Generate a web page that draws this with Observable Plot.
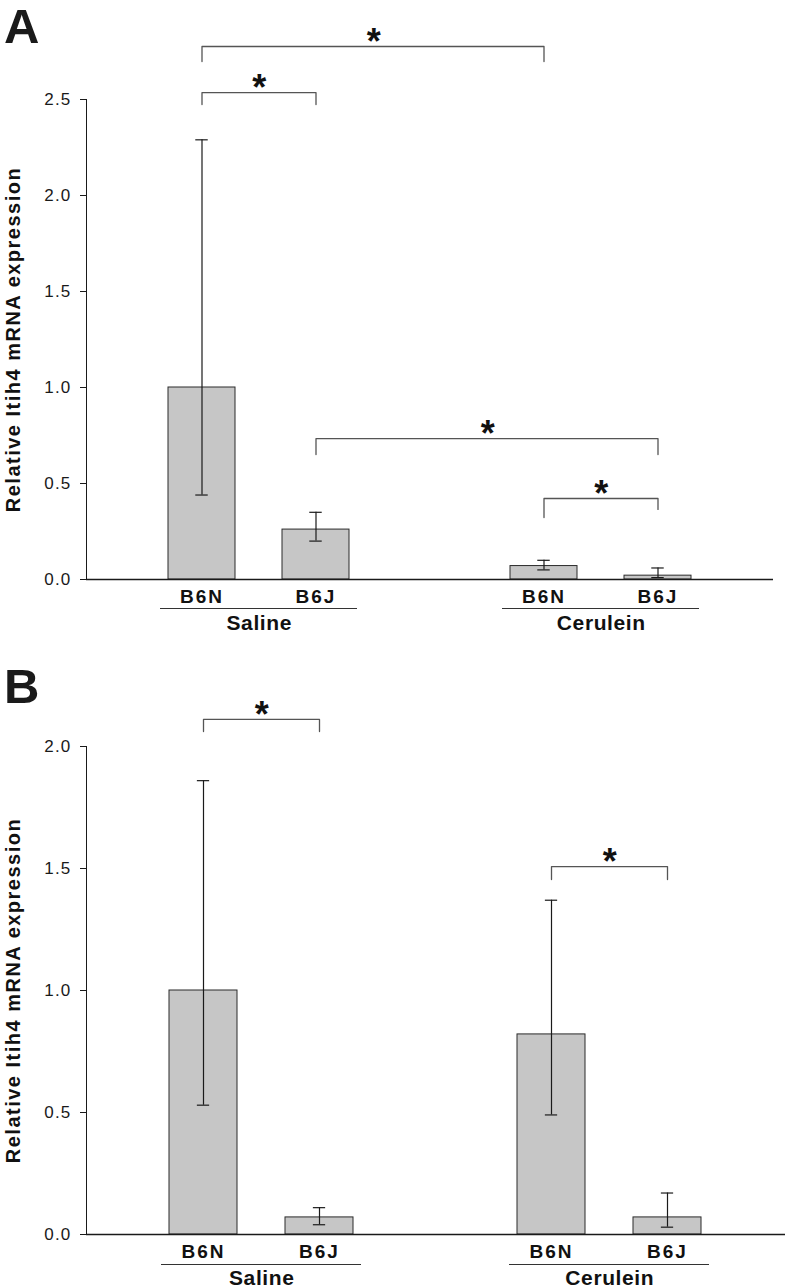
<!DOCTYPE html>
<html><head><meta charset="utf-8">
<script src="https://cdn.jsdelivr.net/npm/d3@7"></script>
<script src="https://cdn.jsdelivr.net/npm/@observablehq/plot@0.6"></script>
<style>
body{margin:0;background:#fff;}
#wrap{position:relative;width:786px;height:1288px;font-family:"Liberation Sans",Arial,Helvetica,sans-serif;color:#1a1a1a;}
.panel{position:absolute;left:0;}
.letter{position:absolute;left:4px;font-size:49px;font-weight:bold;line-height:49px;}
svg{display:block;}
svg g[aria-label="y-axis tick label"] text{letter-spacing:1.2px;}
.strainlab text{letter-spacing:2px;}
.grouplab text{letter-spacing:0.6px;}
.ytitle text{letter-spacing:1.5px;}
</style></head><body>
<div id="wrap"></div>
<script>
// ---------- data ----------
const treatments = ["Saline", "Cerulein"];
const strains = ["B6N", "B6J"];
const keys = ["Saline B6N", "Saline B6J", "Cerulein B6N", "Cerulein B6J"];
const yTitle = "Relative Itih4 mRNA expression";

// Panel A
const meanA = [1.00, 0.26, 0.07, 0.02];
const lowA  = [0.44, 0.20, 0.05, 0.01];
const highA = [2.29, 0.35, 0.10, 0.06];
const ticksA = [0, 0.5, 1.0, 1.5, 2.0, 2.5];
const bracketFromA  = ["Saline B6N", "Saline B6N", "Saline B6J", "Cerulein B6N"];
const bracketToA    = ["Cerulein B6N", "Saline B6J", "Cerulein B6J", "Cerulein B6J"];
const bracketLevelA = [2.776, 2.536, 0.734, 0.422];
const bracketLeftA  = [2.698, 2.474, 0.651, 0.323];
const bracketRightA = [2.698, 2.474, 0.651, 0.365];

// Panel B
const meanB = [1.00, 0.07, 0.82, 0.07];
const lowB  = [0.53, 0.04, 0.49, 0.03];
const highB = [1.86, 0.11, 1.37, 0.17];
const ticksB = [0, 0.5, 1.0, 1.5, 2.0];
const bracketFromB  = ["Saline B6N", "Cerulein B6N"];
const bracketToB    = ["Saline B6J", "Cerulein B6J"];
const bracketLevelB = [2.111, 1.508];
const bracketLeftB  = [2.061, 1.455];
const bracketRightB = [2.061, 1.455];

// ---------- drawing ----------
const FONT = '"Liberation Sans", Arial, Helvetica, sans-serif';
const xDomain = [keys[0], keys[1], " ", keys[2], keys[3]];

function panel(o) {
  const rows = keys.map((k, i) => ({key: k, strain: strains[i % 2], mean: o.mean[i], low: o.low[i], high: o.high[i]}));
  const groups = treatments.map((t, g) => ({name: t, a: keys[2 * g], b: keys[2 * g + 1]}));
  const brackets = o.from.map((f, i) => ({id: i, from: f, to: o.to[i], level: o.level[i], left: o.left[i], right: o.right[i]}));
  const bracketPts = brackets.flatMap(b => [
    {id: b.id, x: b.from, y: b.left}, {id: b.id, x: b.from, y: b.level},
    {id: b.id, x: b.to, y: b.level}, {id: b.id, x: b.to, y: b.right}
  ]);
  const xOpts = {type: "band", domain: xDomain, range: [o.marginLeft, o.width - o.marginRight],
                 paddingInner: 0.41, paddingOuter: 0.705, axis: null};
  const xs = Plot.scale({x: xOpts});
  const bw = xs.bandwidth;
  const half = (a, b) => (xs.apply(b) - xs.apply(a)) / 2;
  const capInset = (bw - 13) / 2;

  const svg = Plot.plot({
    width: o.width, height: o.height,
    marginTop: o.marginTop, marginBottom: o.marginBottom,
    marginLeft: o.marginLeft, marginRight: o.marginRight,
    style: {fontFamily: FONT, fontSize: "17px", color: "#1a1a1a", background: "#fff", overflow: "visible"},
    x: xOpts,
    y: {domain: o.yDomain, ticks: o.yTicks, tickFormat: d3.format(".1f"), tickSize: 6, tickPadding: 9, label: null, line: true},
    marks: [
      Plot.barY(rows, {x: "key", y: "mean", fill: "#c6c6c6", stroke: "#2a2a2a", strokeWidth: 1}),
      Plot.ruleY([0], {stroke: "#1a1a1a", strokeWidth: 1.3}),
      Plot.ruleX(rows, {x: "key", y1: "low", y2: "high", stroke: "#1a1a1a", strokeWidth: 1.2}),
      Plot.tickY(rows, {x: "key", y: "low", stroke: "#1a1a1a", strokeWidth: 1.2, insetLeft: capInset, insetRight: capInset}),
      Plot.tickY(rows, {x: "key", y: "high", stroke: "#1a1a1a", strokeWidth: 1.2, insetLeft: capInset, insetRight: capInset}),
      Plot.line(bracketPts, {x: "x", y: "y", z: "id", stroke: "#555", strokeWidth: 1.3}),
      ...brackets.map(b => Plot.text([b], {x: "from", y: "level", text: () => "*", dx: half(b.from, b.to),
                 dy: -4, fontSize: 36, fontWeight: "bold", fill: "#111"})),
      Plot.text(rows, {x: "key", y: () => 0, text: "strain", dy: 9.5, lineAnchor: "top",
                 fontSize: 19, fontWeight: "bold", fill: "#111", className: "strainlab"}),
      Plot.ruleY(groups, {y: () => 0, x1: "a", x2: "b", dy: o.underDy, insetLeft: -8, insetRight: -8,
                 stroke: "#333", strokeWidth: 1}),
      ...groups.map(g => Plot.text([g], {x: "a", y: () => 0, text: "name", dx: half(g.a, g.b), dy: 36,
                 lineAnchor: "top", fontSize: 21, fontWeight: "bold", fill: "#111", className: "grouplab"})),
      Plot.text([yTitle], {frameAnchor: "left", rotate: -90, textAnchor: "middle", dx: -73, fontSize: 20,
                 fontWeight: "bold", fill: "#111", className: "ytitle"})
    ]
  });
  return svg;
}

const wrap = document.getElementById("wrap");
function place(node, top) {
  const d = document.createElement("div");
  d.className = "panel"; d.style.top = top + "px";
  d.appendChild(node); wrap.appendChild(d);
}
function letter(txt, top) {
  const d = document.createElement("div");
  d.className = "letter"; d.style.top = top + "px"; d.textContent = txt;
  wrap.appendChild(d);
}

place(panel({width: 786, height: 645, marginTop: 99, marginBottom: 66, marginLeft: 86, marginRight: 13,
  yDomain: [0, 2.5], yTicks: ticksA, mean: meanA, low: lowA, high: highA,
  from: bracketFromA, to: bracketToA, level: bracketLevelA, left: bracketLeftA, right: bracketRightA, underDy: 29}), 0);
place(panel({width: 786, height: 643, marginTop: 101, marginBottom: 54, marginLeft: 86, marginRight: 1,
  yDomain: [0, 2.0], yTicks: ticksB, mean: meanB, low: lowB, high: highB,
  from: bracketFromB, to: bracketToB, level: bracketLevelB, left: bracketLeftB, right: bracketRightB, underDy: 30}), 645);
letter("A", 1.5);
letter("B", 661.5);
</script>
</body></html>
